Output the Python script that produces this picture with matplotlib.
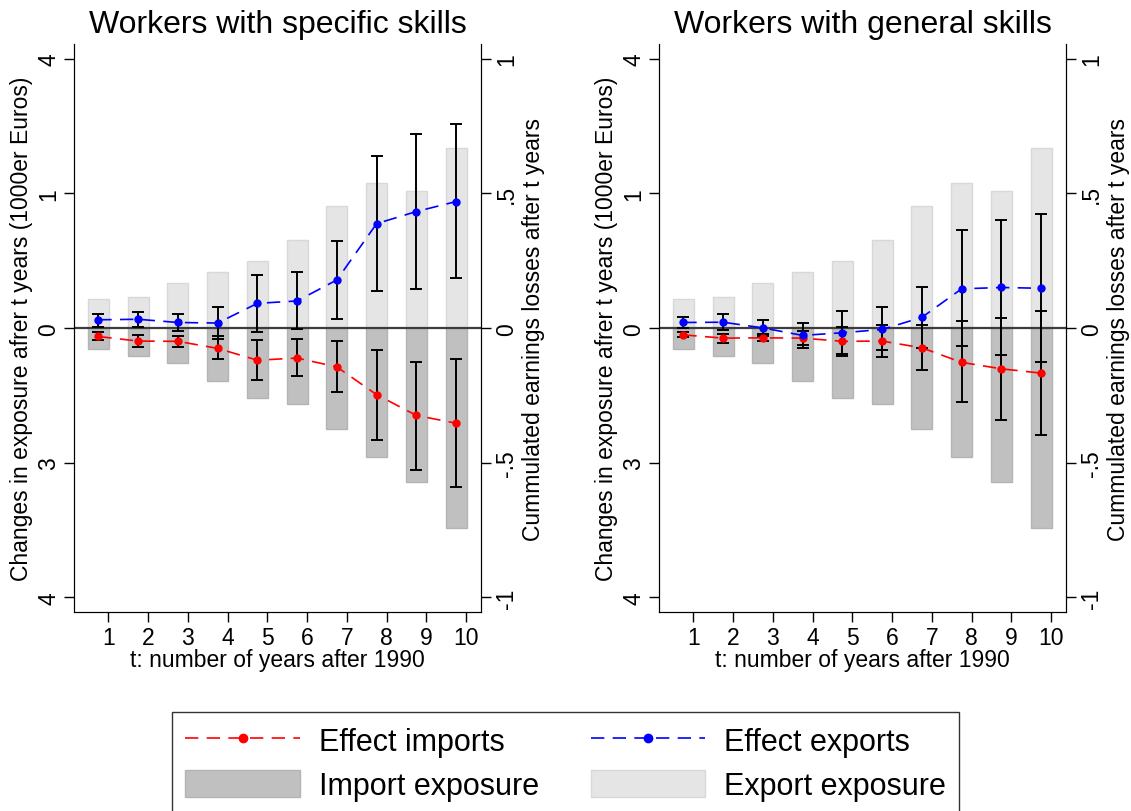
import matplotlib
matplotlib.use("Agg")
import matplotlib.pyplot as plt
from matplotlib.lines import Line2D
from matplotlib.patches import Patch
import numpy as np

plt.rcParams['font.family'] = ['Liberation Sans', 'DejaVu Sans']

years = np.arange(1, 11)

# exposure bars (left axis units), same in both panels
import_exposure = [-0.31, -0.42, -0.52, -0.78, -1.04, -1.13, -1.50, -1.92, -2.29, -2.97]
export_exposure = [0.44, 0.46, 0.67, 0.84, 1.00, 1.31, 1.81, 2.15, 2.04, 2.67]

# workers with specific skills (right axis units)
spec_imp = [-0.031, -0.048, -0.049, -0.075, -0.119, -0.111, -0.144, -0.247, -0.324, -0.353]
spec_imp_lo = [-0.043, -0.069, -0.069, -0.115, -0.192, -0.177, -0.236, -0.414, -0.526, -0.591]
spec_imp_hi = [-0.016, -0.027, -0.030, -0.031, -0.043, -0.041, -0.049, -0.081, -0.124, -0.114]
spec_exp = [0.031, 0.033, 0.021, 0.019, 0.092, 0.101, 0.179, 0.388, 0.433, 0.470]
spec_exp_lo = [0.006, 0.004, -0.010, -0.042, -0.013, -0.004, 0.035, 0.138, 0.146, 0.187]
spec_exp_hi = [0.053, 0.059, 0.052, 0.079, 0.197, 0.207, 0.324, 0.639, 0.721, 0.757]

# workers with general skills
gen_imp = [-0.025, -0.037, -0.036, -0.037, -0.049, -0.048, -0.073, -0.127, -0.151, -0.167]
gen_imp_lo = [-0.033, -0.056, -0.049, -0.062, -0.103, -0.106, -0.155, -0.275, -0.340, -0.396]
gen_imp_hi = [-0.014, -0.021, -0.022, -0.012, 0.004, 0.012, 0.011, 0.025, 0.037, 0.062]
gen_exp = [0.021, 0.022, 0.001, -0.027, -0.017, -0.005, 0.040, 0.146, 0.151, 0.148]
gen_exp_lo = [0.001, -0.006, -0.029, -0.073, -0.096, -0.082, -0.073, -0.066, -0.101, -0.125]
gen_exp_hi = [0.043, 0.052, 0.030, 0.019, 0.062, 0.079, 0.152, 0.363, 0.402, 0.422]

left_ticks = [-4, -2, 0, 2, 4]
left_labels = ['4', '3', '0', '1', '4']
right_ticks = [-1, -0.5, 0, 0.5, 1]
right_labels = ['-1', '-.5', '0', '.5', '1']

W, H = 1131, 812
fig = plt.figure(figsize=(W / 100, H / 100), dpi=100)

panels = [
    ("Workers with specific skills", 74.3, spec_imp, spec_imp_lo, spec_imp_hi, spec_exp, spec_exp_lo, spec_exp_hi),
    ("Workers with general skills", 659.3, gen_imp, gen_imp_lo, gen_imp_hi, gen_exp, gen_exp_lo, gen_exp_hi),
]

fs = 16.5
dash = (0, (8, 5))
xs = years - 0.25
lim = 1.055
for title, x0, imp, imp_lo, imp_hi, exp_, exp_lo, exp_hi in panels:
    ax = fig.add_axes([x0 / W, 1 - 613.3 / H, 406.7 / W, 568.3 / H])
    ax.bar(xs, export_exposure, width=0.53, color='#e5e5e5', edgecolor='#d8d8d8', lw=1)
    ax.bar(xs, import_exposure, width=0.53, color='#c0c0c0', edgecolor='#b4b4b4', lw=1)
    ax.set_ylim(-4 * lim, 4 * lim)
    ax.set_xlim(0.145, 10.376)
    ax.set_yticks(left_ticks)
    ax.set_yticklabels(left_labels, rotation=90, va='center')
    ax.set_xticks(years)
    ax.tick_params(axis='both', direction='out', length=7, width=1, labelsize=fs, color='black')
    ax.tick_params(axis='y', pad=3)
    ax.tick_params(axis='x', pad=3)
    ax.set_xlabel("t: number of years after 1990", fontsize=fs, labelpad=-1)
    ax.set_ylabel("Changes in exposure afrer t years (1000er Euros)", fontsize=fs, labelpad=3)
    ax.set_title(title, fontsize=23, pad=9)
    ax.spines['top'].set_visible(False)

    ax2 = ax.twinx()
    ax2.set_ylim(-lim, lim)
    ax2.axhline(0, color='#3c3c3c', lw=1.6, zorder=1)
    ax2.errorbar(xs, exp_, yerr=[np.subtract(exp_, exp_lo), np.subtract(exp_hi, exp_)], fmt='none',
                 ecolor='black', elinewidth=1.4, capsize=4.2, capthick=1.4, zorder=2)
    ax2.errorbar(xs, imp, yerr=[np.subtract(imp, imp_lo), np.subtract(imp_hi, imp)], fmt='none',
                 ecolor='black', elinewidth=1.4, capsize=4.2, capthick=1.4, zorder=2)
    ax2.plot(xs, imp, color='red', ls=dash, lw=1.2, marker='o', ms=5, zorder=3)
    ax2.plot(xs, exp_, color='blue', ls=dash, lw=1.2, marker='o', ms=5, zorder=3)
    ax2.set_yticks(right_ticks)
    ax2.set_yticklabels(right_labels, rotation=90, va='center')
    ax2.tick_params(axis='y', direction='out', length=7, width=1, labelsize=fs, pad=3)
    ax2.set_ylabel("Cummulated earnings losses after t years", fontsize=fs, rotation=90, labelpad=3)
    ax2.spines['top'].set_visible(False)

handles = [
    Line2D([], [], color='red', ls=dash, lw=1.2, marker='o', ms=6),
    Patch(facecolor='#c0c0c0', edgecolor='#b4b4b4'),
    Line2D([], [], color='blue', ls=dash, lw=1.2, marker='o', ms=6),
    Patch(facecolor='#e5e5e5', edgecolor='#d8d8d8'),
]
labels = ["Effect imports", "Import exposure", "Effect exports", "Export exposure"]
leg = fig.legend(handles, labels, ncol=2, loc='upper center', bbox_to_anchor=(0.5, 1 - 713 / H),
                 fontsize=22, frameon=True, fancybox=False, edgecolor='black', handlelength=3.76,
                 handleheight=1.0, columnspacing=1.7, handletextpad=0.6, borderpad=0.45,
                 labelspacing=0.42, borderaxespad=0)
leg.get_frame().set_linewidth(1.0)

fig.savefig("out.png", dpi=100)
